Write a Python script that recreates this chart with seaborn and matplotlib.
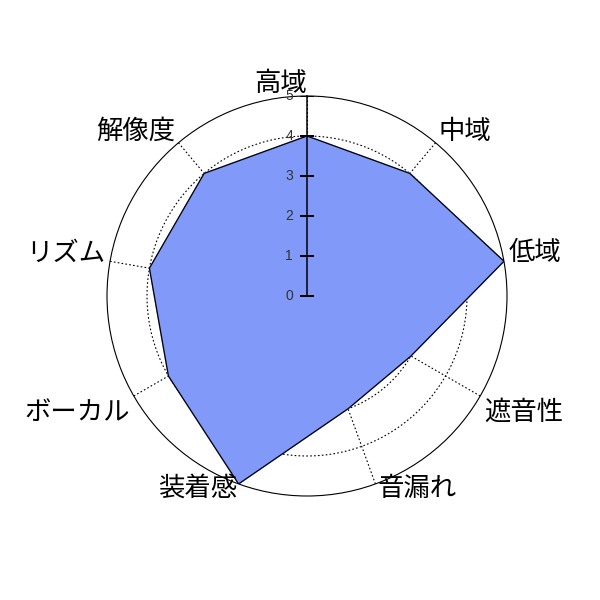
import numpy as np
import pandas as pd
import matplotlib
matplotlib.use("Agg")
import matplotlib.pyplot as plt
import matplotlib.transforms as mtransforms
import seaborn as sns

# axes of the radar, clockwise from the top
categories = ["高域", "中域", "低域", "遮音性", "音漏れ", "装着感", "ボーカル", "リズム", "解像度"]
scores = [4, 4, 5, 3, 3, 5, 4, 4, 4]
r_ticks = [0, 1, 2, 3, 4, 5]
r_max = 5

sns.set_theme(style="white")
plt.rcParams["font.family"] = ["Noto Sans CJK JP", "DejaVu Sans"]

n = len(categories)
theta = np.arange(n) * 2 * np.pi / n
df = pd.DataFrame({"theta": np.append(theta, theta[0]),
                   "score": scores + scores[:1]})

fig = plt.figure(figsize=(6, 6), dpi=100)
ax = fig.add_axes([107 / 600, 104 / 600, 400 / 600, 400 / 600], projection="polar")
ax.set_theta_zero_location("N")
ax.set_theta_direction(-1)
ax.set_ylim(0, r_max)
ax.grid(False)
ax.set_xticks([])
ax.set_yticks([])
ax.spines["polar"].set_linewidth(0.8)
ax.spines["polar"].set_color("black")

# dotted grid: inner rings and spokes
ring = np.linspace(0, 2 * np.pi, 361)
for r in r_ticks[1:-1]:
    ax.plot(ring, np.full_like(ring, r), color="black", lw=0.8, ls=(0, (1.5, 2)), zorder=1)
for t in theta:
    ax.plot([t, t], [0, r_max], color="black", lw=0.8, ls=(0, (1.5, 2)), zorder=1)

# filled score polygon
ax.fill(df["theta"], df["score"], color="#8199F8", zorder=2)
sns.lineplot(data=df, x="theta", y="score", sort=False, estimator=None,
             color="black", lw=0.9, ax=ax, zorder=3)
ax.set_xlabel("")
ax.set_ylabel("")

# radial axis with ticks on the top spoke
ax.plot([0, 0], [0, r_max], color="black", lw=1.1, zorder=4)
ax.plot(np.zeros(len(r_ticks)), r_ticks, ls="none", marker="_", ms=10,
        mew=1.1, color="black", zorder=4)
off = mtransforms.offset_copy(ax.transData, fig=fig, x=-10, y=0, units="points")
for r in r_ticks:
    ax.text(0, r, str(r), transform=off, ha="right", va="center",
            fontsize=10, color="#333333", family="Liberation Sans", zorder=5)

# category labels just outside the outer ring
for t, lab in zip(theta, categories):
    ha = "left" if np.sin(t) > 0.01 else "right"
    if np.cos(t) > 0:
        va = "baseline"
    elif np.cos(t) < -0.9:
        va = "center"
    else:
        va = "top"
    ax.text(t, r_max * 1.025, lab, ha=ha, va=va, fontsize=19, color="black",
            clip_on=False, zorder=5)

fig.savefig("out.png", dpi=100, facecolor="white")
